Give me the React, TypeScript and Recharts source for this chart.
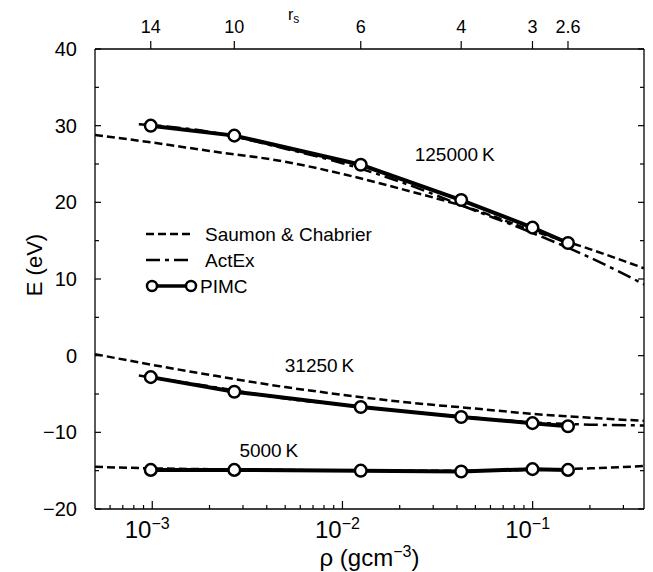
import { LineChart, Line, XAxis, YAxis, Legend, ReferenceDot } from "recharts";

// r_s values on the top axis and the matching hydrogen densities (g/cm^3)
const rsLabels = ["14", "10", "6", "4", "3", "2.6"];
const rsDensity = [0.000982, 0.0027, 0.01248, 0.0421, 0.0998, 0.1534];

// PIMC energies (eV) at the r_s densities
const pimc125000 = [30.0, 28.7, 24.9, 20.3, 16.7, 14.7];
const pimc31250 = [-2.8, -4.7, -6.7, -8.0, -8.8, -9.2];
const pimc5000 = [-14.9, -14.9, -15.0, -15.1, -14.8, -14.9];

// Saumon & Chabrier curves
const scDensity = [0.0005, 0.001, 0.002, 0.005, 0.01, 0.02, 0.05, 0.1, 0.2, 0.385];
const sc125000 = [28.8, 27.8, 26.7, 25.3, 23.7, 21.8, 19.0, 16.3, 13.9, 11.4];
const sc31250 = [0.2, -1.2, -2.5, -4.1, -5.1, -6.0, -6.9, -7.6, -8.1, -8.5];
const sc5000 = [-14.5, -14.7, -14.8, -14.9, -15.0, -15.0, -15.0, -14.9, -14.7, -14.4];

// ActEx curves
const actexDensity = [0.00085, 0.002, 0.005, 0.01, 0.02, 0.05, 0.1, 0.2, 0.385];
const actex125000 = [30.2, 29.2, 27.0, 25.1, 22.7, 18.9, 16.0, 12.8, 9.3];
const actex31250 = [-2.6, -4.0, -5.6, -6.4, -7.2, -8.1, -8.7, -9.0, -9.1];

// temperature annotations
const tempLabels = ["125000\u2009K", "31250\u2009K", "5000\u2009K"];
const tempLabelDensity = [0.0389, 0.00757, 0.0041];
const tempLabelEnergy = [26.3, -1.2, -12.3];

const xTicks = [
  0.0006, 0.0007, 0.0008, 0.0009, 0.001, 0.002, 0.003, 0.004, 0.005, 0.006, 0.007, 0.008, 0.009,
  0.01, 0.02, 0.03, 0.04, 0.05, 0.06, 0.07, 0.08, 0.09, 0.1, 0.2, 0.3,
];
const yTicks = [-20, -15, -10, -5, 0, 5, 10, 15, 20, 25, 30, 35, 40];

const FONT = "'Liberation Sans', Arial, Helvetica, sans-serif";

const toPoints = (xs: number[], ys: number[]) => xs.map((x, i) => ({ x, e: ys[i] }));

const BottomTick = (props: any) => {
  const { x, y, payload } = props;
  const lg = Math.log10(payload.value);
  const exp = Math.round(lg);
  const major = Math.abs(lg - exp) < 1e-6;
  return (
    <g>
      <line x1={x} x2={x} y1={y} y2={y - (major ? 8 : 4)} stroke="#000" strokeWidth={1.2} />
      {major && (
        <text x={x - 5} y={y + 29} textAnchor="middle" fontSize={24} fontFamily={FONT} fill="#000">
          10
          <tspan dy={-9} fontSize={16}>
            {"\u2212" + String(-exp)}
          </tspan>
        </text>
      )}
    </g>
  );
};

const TopTick = (props: any) => {
  const { x, y, payload } = props;
  const idx = rsDensity.indexOf(payload.value);
  return (
    <g>
      <line x1={x} x2={x} y1={y} y2={y - 8} stroke="#000" strokeWidth={1.2} />
      <text x={x} y={y - 16} textAnchor="middle" fontSize={18} fontFamily={FONT} fill="#000">
        {rsLabels[idx]}
      </text>
    </g>
  );
};

const LeftTick = (props: any) => {
  const { x, y, payload } = props;
  const major = payload.value % 10 === 0;
  return (
    <g>
      <line x1={x} x2={x + (major ? 6 : 4)} y1={y} y2={y} stroke="#000" strokeWidth={1.2} />
      {major && (
        <text x={x - 18} y={y + 7} textAnchor="end" fontSize={20} fontFamily={FONT} fill="#000">
          {payload.value < 0 ? "\u2212" + String(-payload.value) : String(payload.value)}
        </text>
      )}
    </g>
  );
};

const RightTick = (props: any) => {
  const { x, y, payload } = props;
  const major = payload.value % 10 === 0;
  return <line x1={x} x2={x - (major ? 6 : 4)} y1={y} y2={y} stroke="#000" strokeWidth={1.2} />;
};

const TempLabel = (text: string) => (props: any) => (
  <text x={props.cx} y={props.cy + 7} textAnchor="middle" fontSize={19} fontFamily={FONT} fill="#000">
    {text}
  </text>
);

const LegendBox = () => (
  <svg width={240} height={80} style={{ display: "block" }}>
    <line x1={8} x2={55} y1={11} y2={11} stroke="#000" strokeWidth={2.5} strokeDasharray="8 4" />
    <text x={67} y={18} fontSize={19} fontFamily={FONT}>
      Saumon &amp; Chabrier
    </text>
    <line x1={8} x2={55} y1={37} y2={37} stroke="#000" strokeWidth={2.5} strokeDasharray="14 5 4 5" />
    <text x={67} y={44} fontSize={19} fontFamily={FONT}>
      ActEx
    </text>
    <line x1={14} x2={53} y1={63} y2={63} stroke="#000" strokeWidth={3.5} />
    <circle cx={14} cy={63} r={5} fill="#fff" stroke="#000" strokeWidth={2.5} />
    <circle cx={53} cy={63} r={5} fill="#fff" stroke="#000" strokeWidth={2.5} />
    <text x={62} y={70} fontSize={19} fontFamily={FONT}>
      PIMC
    </text>
  </svg>
);

const dashed = { stroke: "#000", strokeWidth: 2.5, strokeDasharray: "8 4", dot: false as const };
const dashDot = { stroke: "#000", strokeWidth: 2.5, strokeDasharray: "14 5 4 5", dot: false as const };
const pimcDot = { r: 5.8, fill: "#fff", stroke: "#000", strokeWidth: 2.5 };

export default function App() {
  return (
    <div>
      <style>{`body{margin:0}`}</style>
      <LineChart width={653} height={572} margin={{ top: 19, right: 8, bottom: 23, left: 35 }}>
        <XAxis
          xAxisId="bottom"
          type="number"
          dataKey="x"
          scale="log"
          domain={[0.0005, 0.385]}
          allowDataOverflow
          ticks={xTicks}
          interval={0}
          height={40}
          tickSize={0}
          tickMargin={0}
          tickLine={false}
          tick={BottomTick}
          axisLine={{ stroke: "#000", strokeWidth: 1.3 }}
          label={{
            content: (p: any) => (
              <text
                x={p.viewBox.x + p.viewBox.width / 2}
                y={p.viewBox.y + 57}
                textAnchor="middle"
                fontSize={24}
                fontFamily={FONT}
                fill="#000"
              >
                ρ (gcm
                <tspan dy={-9} fontSize={16}>
                  −3
                </tspan>
                <tspan dy={9}>)</tspan>
              </text>
            ),
          }}
        />
        <XAxis
          xAxisId="top"
          orientation="top"
          type="number"
          dataKey="x"
          scale="log"
          domain={[0.0005, 0.385]}
          allowDataOverflow
          ticks={rsDensity}
          interval={0}
          height={30}
          tickSize={0}
          tickMargin={0}
          tickLine={false}
          tick={TopTick}
          axisLine={{ stroke: "#000", strokeWidth: 1.3 }}
          label={{
            content: (p: any) => (
              <text x={p.viewBox.x + 193} y={20} fontSize={16} fontFamily={FONT} fill="#000">
                r
                <tspan dy={3} fontSize={12}>
                  s
                </tspan>
              </text>
            ),
          }}
        />
        <YAxis
          yAxisId="left"
          type="number"
          domain={[-20, 40]}
          allowDataOverflow
          ticks={yTicks}
          interval={0}
          width={60}
          tickSize={0}
          tickMargin={0}
          tickLine={false}
          tick={LeftTick}
          axisLine={{ stroke: "#000", strokeWidth: 1.3 }}
          label={{
            content: () => (
              <text
                x={0}
                y={0}
                transform={`translate(${35 + 7}, 265) rotate(-90)`}
                textAnchor="middle"
                fontSize={22}
                fontFamily={FONT}
                fill="#000"
              >
                E (eV)
              </text>
            ),
          }}
        />
        <YAxis
          yAxisId="right"
          orientation="right"
          type="number"
          domain={[-20, 40]}
          allowDataOverflow
          ticks={yTicks}
          interval={0}
          width={1}
          tickSize={0}
          tickMargin={0}
          tickLine={false}
          tick={RightTick}
          axisLine={{ stroke: "#000", strokeWidth: 1.3 }}
        />
        <Legend
          layout="vertical"
          align="center"
          verticalAlign="middle"
          wrapperStyle={{ left: 138, top: 223, width: 240 }}
          content={LegendBox}
        />

        <Line xAxisId="bottom" yAxisId="left" data={toPoints(scDensity, sc125000)} dataKey="e" type="monotone" {...dashed} isAnimationActive={false} />
        <Line xAxisId="bottom" yAxisId="left" data={toPoints(scDensity, sc31250)} dataKey="e" type="monotone" {...dashed} isAnimationActive={false} />
        <Line xAxisId="bottom" yAxisId="left" data={toPoints(scDensity, sc5000)} dataKey="e" type="monotone" {...dashed} isAnimationActive={false} />
        <Line xAxisId="bottom" yAxisId="left" data={toPoints(actexDensity, actex125000)} dataKey="e" type="monotone" {...dashDot} isAnimationActive={false} />
        <Line xAxisId="bottom" yAxisId="left" data={toPoints(actexDensity, actex31250)} dataKey="e" type="monotone" {...dashDot} isAnimationActive={false} />

        <Line xAxisId="bottom" yAxisId="left" data={toPoints(rsDensity, pimc125000)} dataKey="e" type="linear" stroke="#000" strokeWidth={4} dot={pimcDot} isAnimationActive={false} />
        <Line xAxisId="bottom" yAxisId="left" data={toPoints(rsDensity, pimc31250)} dataKey="e" type="linear" stroke="#000" strokeWidth={4} dot={pimcDot} isAnimationActive={false} />
        <Line xAxisId="bottom" yAxisId="left" data={toPoints(rsDensity, pimc5000)} dataKey="e" type="linear" stroke="#000" strokeWidth={4} dot={pimcDot} isAnimationActive={false} />

        {tempLabels.map((t, i) => (
          <ReferenceDot
            key={t}
            xAxisId="bottom"
            yAxisId="left"
            x={tempLabelDensity[i]}
            y={tempLabelEnergy[i]}
            r={1}
            shape={TempLabel(t)}
          />
        ))}
      </LineChart>
    </div>
  );
}
